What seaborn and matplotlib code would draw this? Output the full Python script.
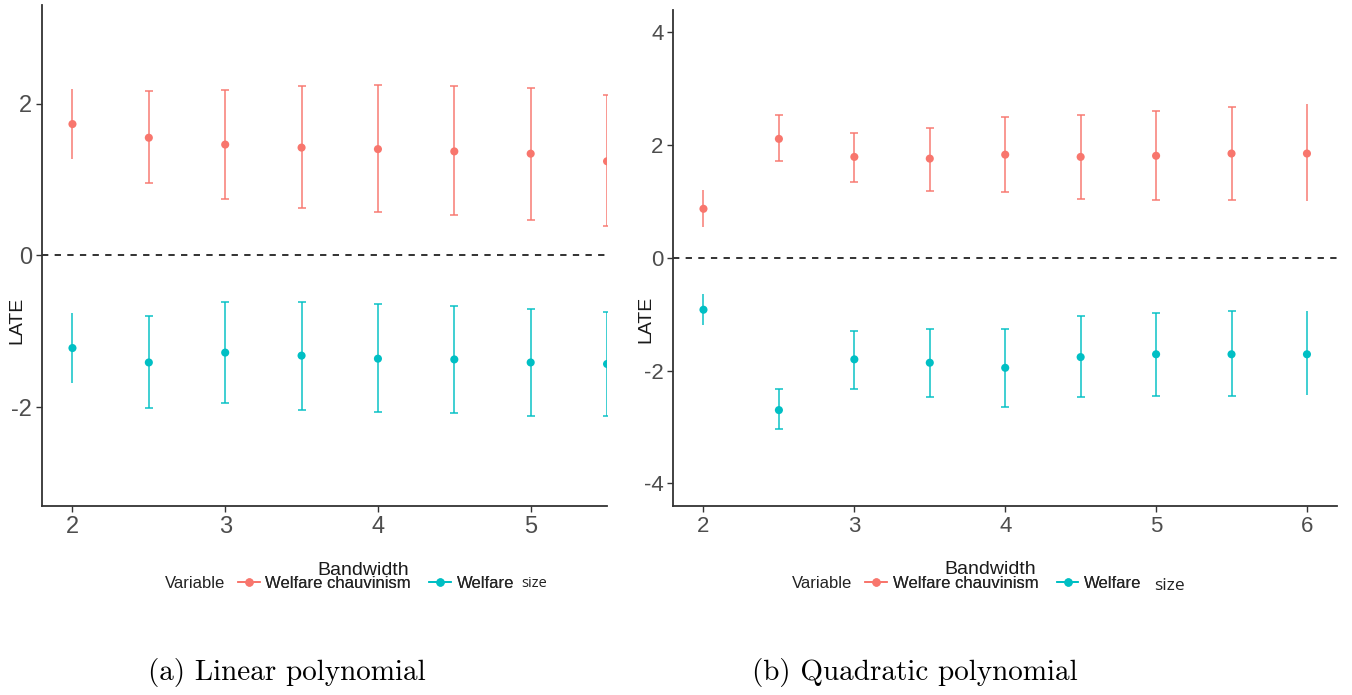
import numpy as np
import pandas as pd
import matplotlib
matplotlib.use("Agg")
import matplotlib.pyplot as plt
import seaborn as sns
from matplotlib.lines import Line2D

# Estimates and 95% intervals
# (a) linear polynomial, picture cropped at bandwidth 5.5
bandwidth_lin = [2, 2.5, 3, 3.5, 4, 4.5, 5, 5.5]
chauv_lin = [1.73, 1.55, 1.46, 1.42, 1.40, 1.37, 1.34, 1.24]
chauv_lin_lo = [1.27, 0.95, 0.74, 0.62, 0.57, 0.53, 0.47, 0.39]
chauv_lin_hi = [2.19, 2.16, 2.18, 2.23, 2.24, 2.23, 2.21, 2.11]
size_lin = [-1.22, -1.41, -1.28, -1.32, -1.36, -1.37, -1.41, -1.43]
size_lin_lo = [-1.68, -2.01, -1.95, -2.03, -2.06, -2.08, -2.11, -2.11]
size_lin_hi = [-0.76, -0.80, -0.62, -0.62, -0.64, -0.67, -0.70, -0.74]

# (b) quadratic polynomial
bandwidth_quad = [2, 2.5, 3, 3.5, 4, 4.5, 5, 5.5, 6]
chauv_quad = [0.87, 2.11, 1.79, 1.76, 1.83, 1.79, 1.81, 1.85, 1.85]
chauv_quad_lo = [0.55, 1.72, 1.35, 1.19, 1.17, 1.04, 1.03, 1.03, 1.00]
chauv_quad_hi = [1.20, 2.53, 2.22, 2.31, 2.49, 2.53, 2.60, 2.68, 2.73]
size_quad = [-0.92, -2.70, -1.80, -1.86, -1.95, -1.76, -1.71, -1.71, -1.71]
size_quad_lo = [-1.19, -3.04, -2.32, -2.47, -2.65, -2.47, -2.45, -2.45, -2.44]
size_quad_hi = [-0.65, -2.32, -1.29, -1.27, -1.27, -1.03, -0.97, -0.95, -0.94]

variables = ["Welfare chauvinism", "Welfare size"]
colors = ["#F8766D", "#00BFC4"]


def make_frame(bw, est_a, lo_a, hi_a, est_b, lo_b, hi_b):
    parts = []
    for var, est, lo, hi in [(variables[0], est_a, lo_a, hi_a),
                             (variables[1], est_b, lo_b, hi_b)]:
        parts.append(pd.DataFrame({"Bandwidth": bw, "Variable": var,
                                   "LATE": est, "lo": lo, "hi": hi}))
    return pd.concat(parts, ignore_index=True)


df_lin = make_frame(bandwidth_lin, chauv_lin, chauv_lin_lo, chauv_lin_hi,
                    size_lin, size_lin_lo, size_lin_hi)
df_quad = make_frame(bandwidth_quad, chauv_quad, chauv_quad_lo, chauv_quad_hi,
                     size_quad, size_quad_lo, size_quad_hi)

sns.set_theme(style="ticks")
plt.rcParams['font.family'] = ['Liberation Sans', 'DejaVu Sans']
plt.rcParams['axes.unicode_minus'] = False

fig = plt.figure(figsize=(13.52, 6.95), dpi=100)
ax_a = fig.add_axes([0.031, 0.272, 0.418, 0.721])
ax_b = fig.add_axes([0.498, 0.272, 0.491, 0.714])

palette = dict(zip(variables, colors))


def draw_panel(ax, df, xlim, ylim, xticks, yticks, tick_fs, ylab_xy, xlab_x):
    for var in variables:
        sub = df[df["Variable"] == var]
        # ends of the bandwidth range are drawn without caps
        capped = (sub["Bandwidth"] > 2) & (sub["Bandwidth"] < 6)
        for mask, cs in [(capped, 3.2), (~capped, 0)]:
            s = sub[mask]
            if len(s) == 0:
                continue
            ax.errorbar(s["Bandwidth"], s["LATE"],
                        yerr=[s["LATE"] - s["lo"], s["hi"] - s["LATE"]],
                        fmt="none", ecolor=palette[var], alpha=0.75,
                        elinewidth=1.4, capsize=cs, capthick=1.4)
    sns.scatterplot(data=df, x="Bandwidth", y="LATE", hue="Variable",
                    palette=palette, s=34, edgecolor="none", legend=False,
                    ax=ax, zorder=3)
    ax.axhline(0, color="#222222", ls=(0, (3.5, 3.5)), lw=1.3, zorder=1)
    ax.set_xlim(*xlim)
    ax.set_ylim(*ylim)
    ax.set_xticks(xticks)
    ax.set_yticks(yticks)
    sns.despine(ax=ax)
    for sp in ["left", "bottom"]:
        ax.spines[sp].set_color("#333333")
        ax.spines[sp].set_linewidth(1.3)
    ax.tick_params(labelsize=tick_fs, labelcolor="#4D4D4D", color="#333333",
                   length=4, width=1.0, pad=3)
    ax.set_ylabel("LATE", fontsize=14, color="#1a1a1a")
    ax.yaxis.set_label_coords(*ylab_xy)
    ax.set_xlabel("Bandwidth", fontsize=14, color="#1a1a1a")
    ax.xaxis.set_label_coords(xlab_x, -0.111)


draw_panel(ax_a, df_lin, (1.8, 5.5), (-3.3, 3.3), [2, 3, 4, 5], [-2, 0, 2],
           17, (-0.030, 0.371), 0.568)
draw_panel(ax_b, df_quad, (1.8, 6.2), (-4.4, 4.4), [2, 3, 4, 5, 6],
           [-4, -2, 0, 2, 4], 16, (-0.029, 0.375), 0.477)

# legends below each panel
handles = [Line2D([], [], color=c, marker="o", markersize=5, lw=1.4) for c in colors]
legend_specs = [(0.122, 0.176, 0.161, 10.5), (0.586, 0.640, 0.161, 12.5)]
legs = []
for x_title, x_leg, y_leg, size_fs in legend_specs:
    fig.text(x_title, y_leg, "Variable", fontsize=12, va="center", ha="left",
             color="#222222")
    leg = fig.legend(handles, ["Welfare chauvinism", "Welfare"], ncol=2,
                     loc="center left", bbox_to_anchor=(x_leg, y_leg),
                     frameon=False, fontsize=12, handlelength=1.3,
                     handletextpad=0.35, columnspacing=1.1, borderpad=0,
                     borderaxespad=0)
    fig.add_artist(leg)
    legs.append((leg, y_leg, size_fs))

fig.canvas.draw()
renderer = fig.canvas.get_renderer()
for i, (leg, y_leg, size_fs) in enumerate(legs):
    bb = leg.get_texts()[1].get_window_extent(renderer)
    x_end = bb.x1 / fig.bbox.width
    fig.text(x_end + (0.005 if i == 0 else 0.009), y_leg - (0.0 if i == 0 else 0.004),
             "size", fontsize=size_fs, family="Open Sans", va="center",
             ha="left", color="#222222")

# sub-captions
fig.text(0.1095, 0.032, "(a) Linear polynomial", family="cmr10", fontsize=21,
         va="center", ha="left", color="black")
fig.text(0.556, 0.032, "(b) Quadratic polynomial", family="cmr10", fontsize=21,
         va="center", ha="left", color="black")

fig.savefig("out.png", dpi=100)
